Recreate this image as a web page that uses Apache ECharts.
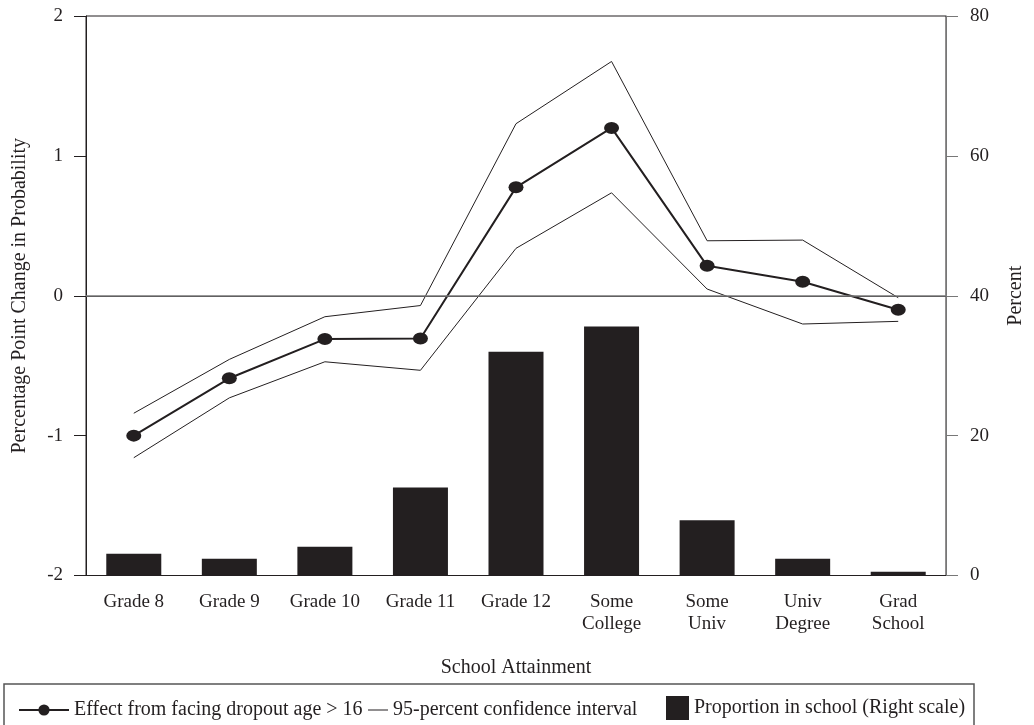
<!DOCTYPE html>
<html>
<head>
<meta charset="utf-8">
<script src="https://cdn.jsdelivr.net/npm/echarts@6/dist/echarts.min.js"></script>
<style>
  html, body { margin: 0; padding: 0; background: #fff; }
  #main { width: 1034px; height: 725px; }
</style>
</head>
<body>
<div id="main"></div>
<script>
// categories on the x axis
var categories = ['Grade 8', 'Grade 9', 'Grade 10', 'Grade 11', 'Grade 12',
  'Some\nCollege', 'Some\nUniv', 'Univ\nDegree', 'Grad\nSchool'];

// effect (left scale, percentage points)
var effect = [-1.00, -0.59, -0.31, -0.305, 0.775, 1.20, 0.214, 0.10, -0.10];
// 95% confidence interval
var ciUpper = [-0.84, -0.455, -0.15, -0.07, 1.23, 1.675, 0.393, 0.398, -0.014];
var ciLower = [-1.158, -0.73, -0.472, -0.533, 0.339, 0.736, 0.048, -0.202, -0.183];
// proportion in school (right scale, percent)
var proportion = [3.1, 2.4, 4.1, 12.6, 32.0, 35.6, 7.9, 2.4, 0.55];

var ink = '#231f20';
var font = 'Liberation Serif';

var chart = echarts.init(document.getElementById('main'));

var legendText = { fontFamily: font, fontSize: 20, color: ink };

var option = {
  animation: false,
  textStyle: { fontFamily: font, color: ink },
  grid: {
    left: 86, right: 87, top: 16, bottom: 149.5,
    show: true, borderColor: ink, borderWidth: 1
  },
  // three legends so each icon gets its own size
  legend: [
    {
      data: ['Effect from facing dropout age > 16'],
      left: 13, top: 695, itemWidth: 50, itemHeight: 14,
      textStyle: legendText
    },
    {
      data: [{ name: '95-percent confidence interval', icon: 'rect' }],
      left: 363, top: 695, itemWidth: 20, itemHeight: 1,
      textStyle: legendText
    },
    {
      data: [{ name: 'Proportion in school (Right scale)', icon: 'rect' }],
      left: 661, top: 691, itemWidth: 23, itemHeight: 24,
      textStyle: legendText
    }
  ],
  graphic: [{
    type: 'rect',
    shape: { x: 4, y: 684, width: 970, height: 60 },
    style: { fill: 'none', stroke: '#555', lineWidth: 1.5 },
    z: 100
  }],
  xAxis: {
    type: 'category',
    data: categories,
    name: 'School Attainment',
    nameLocation: 'middle',
    nameGap: 82,
    nameTextStyle: { fontFamily: font, fontSize: 20, color: ink },
    axisLine: { lineStyle: { color: ink, width: 1 } },
    axisTick: { length: 8, lineStyle: { color: '#999' } },
    axisLabel: {
      fontFamily: font, fontSize: 19, color: ink, lineHeight: 22,
      margin: 16, interval: 0
    },
    splitLine: { show: false }
  },
  yAxis: [
    {
      type: 'value', min: -2, max: 2, interval: 1,
      name: 'Percentage Point Change in Probability',
      nameLocation: 'middle', nameGap: 56,
      nameTextStyle: { fontFamily: font, fontSize: 20, color: ink },
      axisLine: { show: true, lineStyle: { color: ink } },
      axisTick: { show: true, length: 12, lineStyle: { color: ink } },
      axisLabel: { fontFamily: font, fontSize: 19, color: ink, margin: 23 },
      splitLine: { show: false }
    },
    {
      type: 'value', min: 0, max: 80, interval: 20, position: 'right',
      name: 'Percent',
      nameLocation: 'middle', nameGap: 60, nameRotate: 90,
      nameTextStyle: { fontFamily: font, fontSize: 20, color: ink },
      axisLine: { show: true, lineStyle: { color: '#777' } },
      axisTick: { show: true, length: 12, lineStyle: { color: '#777' } },
      axisLabel: { fontFamily: font, fontSize: 19, color: ink, margin: 24 },
      splitLine: { show: false }
    }
  ],
  series: [
    {
      name: 'Proportion in school (Right scale)',
      type: 'bar',
      yAxisIndex: 1,
      data: proportion,
      barWidth: 55,
      itemStyle: { color: ink },
      z: 1
    },
    {
      name: '95-percent confidence interval',
      type: 'line',
      data: ciUpper,
      symbol: 'none',
      lineStyle: { color: ink, width: 1 },
      itemStyle: { color: ink },
      z: 3
    },
    {
      name: '95-percent confidence interval',
      type: 'line',
      data: ciLower,
      symbol: 'none',
      lineStyle: { color: ink, width: 1 },
      itemStyle: { color: ink },
      z: 3
    },
    {
      name: 'Effect from facing dropout age > 16',
      type: 'line',
      data: effect,
      symbol: 'circle',
      symbolSize: [15, 12],
      lineStyle: { color: ink, width: 2 },
      itemStyle: { color: ink },
      z: 4,
      markLine: {
        silent: true,
        symbol: 'none',
        label: { show: false },
        lineStyle: { color: '#777', width: 1.5, type: 'solid' },
        data: [{ yAxis: 0 }]
      }
    }
  ]
};

chart.setOption(option);
</script>
</body>
</html>
